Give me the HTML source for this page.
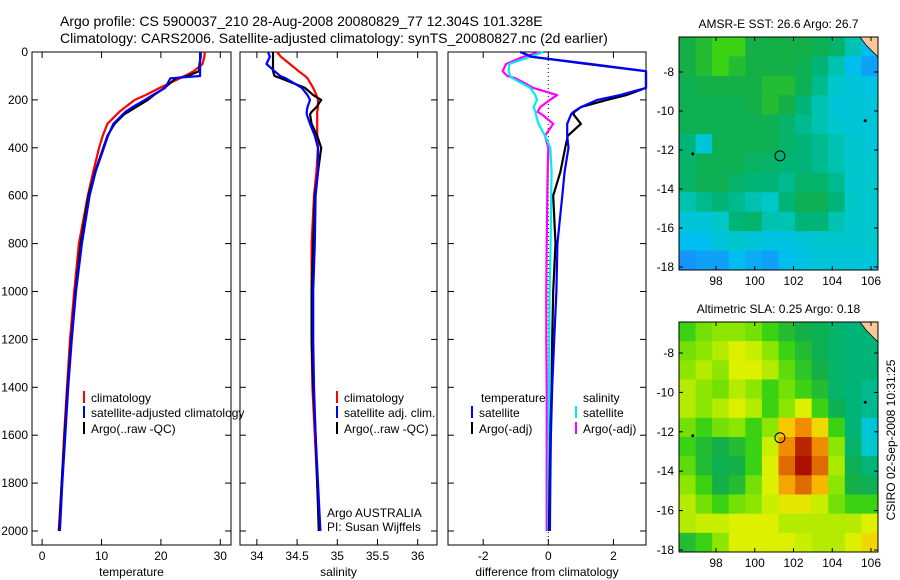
<!DOCTYPE html>
<html><head><meta charset="utf-8"><style>
body{margin:0;background:#fff;}
svg{display:block;font-family:"Liberation Sans",sans-serif;}
</style></head><body>
<svg id="chart" width="900" height="580" viewBox="0 0 900 580" xmlns="http://www.w3.org/2000/svg">
<text x="60" y="26" font-size="14">Argo profile: CS 5900037_210 28-Aug-2008 20080829_77 12.304S 101.328E</text>
<text x="60" y="43" font-size="14">Climatology: CARS2006. Satellite-adjusted climatology: synTS_20080827.nc (2d earlier)</text>
<g id="g"></g>
</svg>
<script>
// ---------- data ----------
const depths = [0,20,50,80,100,110,150,180,200,230,250,260,300,350,400,500,600,800,1000,1200,1400,1600,1800,2000];
const tempClim = [27.4,27.3,27.0,25.5,24.0,23.2,19.8,17.4,15.6,14.0,13.0,12.6,11.0,10.2,9.6,8.6,7.7,6.2,5.4,4.7,4.2,3.7,3.3,2.8];
const tempSat  = [26.6,26.6,26.6,26.6,26.6,21.6,20.7,18.6,17.3,15.2,14.0,13.6,12.0,11.1,10.4,9.0,8.0,6.7,5.7,5.0,4.4,3.9,3.4,3.0];
const tempArgo = [26.7,26.7,26.5,26.4,24.5,22.5,20.6,18.8,17.8,15.8,14.5,13.8,12.2,11.0,10.3,8.9,7.8,6.5,5.6,4.9,4.3,3.8,3.3,2.9];
const salClim = [34.25,34.3,34.41,34.52,34.6,34.63,34.7,34.74,34.76,34.76,34.75,34.75,34.75,34.75,34.76,34.74,34.71,34.68,34.68,34.68,34.69,34.72,34.75,34.78];
const salSat  = [34.14,34.16,34.12,34.22,34.29,34.36,34.56,34.63,34.66,34.63,34.62,34.62,34.66,34.72,34.76,34.76,34.73,34.72,34.70,34.70,34.71,34.73,34.76,34.79];
const salArgo = [34.2,34.2,34.2,34.2,34.22,34.3,34.6,34.7,34.8,34.74,34.68,34.66,34.68,34.75,34.8,34.76,34.72,34.70,34.68,34.68,34.70,34.73,34.75,34.77];
const dTempSat  = [-0.86,-0.5,1.3,3.0,3.0,3.0,3.0,2.2,1.5,1.0,0.77,0.7,0.58,0.58,0.62,0.5,0.43,0.28,0.25,0.18,0.12,0.08,0.06,0.05];
const dTempArgo = [-0.86,-0.5,1.2,3.0,3.0,3.0,3.0,2.4,1.8,1.0,0.8,0.77,1.0,0.6,0.52,0.37,0.15,0.22,0.15,0.12,0.1,0.06,0.04,0.02];
const dSalSat  = [-0.15,-0.55,-1.2,-1.22,-1.17,-1.1,-0.55,-0.4,-0.35,-0.45,-0.4,-0.38,-0.3,-0.1,0.06,0.1,0.09,0.07,0.04,0.03,0.02,0.01,0.0,0.0];
const dSalArgo = [-0.25,-0.77,-1.3,-1.4,-1.26,-1.0,-0.46,0.27,0.05,-0.25,-0.33,-0.2,0.15,-0.1,0.0,-0.02,-0.03,-0.05,-0.06,-0.06,-0.05,-0.05,-0.05,-0.05];
const depthTicks = [0,200,400,600,800,1000,1200,1400,1600,1800,2000];
const tempTicks = [0,10,20,30];
const salTicks = [34,34.5,35,35.5,36];
const salTickLabels = ["34","34.5","35","35.5","36"];
const diffTicks = [-2,0,2];
const lonTicks = [98,100,102,104,106];
const latTicks = [-8,-10,-12,-14,-16,-18];
const sstGrid = [
[0.47,0.5,0.55,0.55,0.47,0.47,0.47,0.47,0.45,0.42,0.35,0.25],
[0.47,0.5,0.55,0.5,0.47,0.47,0.47,0.45,0.4,0.35,0.25,0.2],
[0.45,0.47,0.47,0.47,0.47,0.5,0.5,0.45,0.38,0.32,0.3,0.28],
[0.45,0.45,0.45,0.45,0.47,0.5,0.47,0.4,0.35,0.3,0.3,0.3],
[0.45,0.45,0.45,0.45,0.45,0.45,0.42,0.38,0.35,0.32,0.3,0.3],
[0.4,0.3,0.45,0.45,0.45,0.45,0.42,0.4,0.38,0.35,0.32,0.3],
[0.42,0.45,0.45,0.45,0.43,0.42,0.4,0.4,0.38,0.35,0.32,0.32],
[0.42,0.45,0.45,0.42,0.4,0.4,0.38,0.42,0.42,0.38,0.32,0.32],
[0.35,0.38,0.4,0.38,0.35,0.33,0.4,0.45,0.45,0.4,0.33,0.32],
[0.3,0.3,0.33,0.4,0.42,0.35,0.35,0.4,0.4,0.35,0.32,0.32],
[0.25,0.25,0.3,0.32,0.3,0.28,0.28,0.3,0.32,0.32,0.32,0.32],
[0.18,0.2,0.2,0.25,0.22,0.2,0.25,0.28,0.3,0.3,0.3,0.3]];
const slaGrid = [
[0.55,0.6,0.62,0.62,0.6,0.55,0.5,0.47,0.45,0.42,0.4,0.4],
[0.6,0.62,0.66,0.7,0.68,0.62,0.55,0.5,0.45,0.42,0.4,0.4],
[0.62,0.66,0.62,0.7,0.7,0.66,0.58,0.52,0.47,0.42,0.4,0.4],
[0.66,0.62,0.6,0.66,0.62,0.55,0.6,0.55,0.5,0.42,0.4,0.38],
[0.66,0.62,0.66,0.7,0.66,0.55,0.62,0.7,0.55,0.45,0.4,0.38],
[0.6,0.55,0.6,0.62,0.55,0.62,0.78,0.85,0.75,0.55,0.4,0.3],
[0.55,0.5,0.47,0.5,0.55,0.68,0.85,0.95,0.85,0.62,0.42,0.32],
[0.58,0.5,0.45,0.47,0.55,0.7,0.88,0.98,0.88,0.65,0.45,0.4],
[0.62,0.55,0.47,0.5,0.6,0.7,0.82,0.88,0.8,0.62,0.47,0.45],
[0.66,0.6,0.55,0.6,0.62,0.68,0.72,0.72,0.68,0.6,0.55,0.55],
[0.66,0.68,0.68,0.7,0.7,0.7,0.66,0.66,0.66,0.66,0.66,0.7],
[0.5,0.55,0.62,0.7,0.7,0.7,0.7,0.68,0.66,0.66,0.7,0.75]];
const argoLon = 101.3, argoLat = -12.3;

// ---------- drawing ----------
const NS="http://www.w3.org/2000/svg";
const G=document.getElementById('g');
function el(tag,attrs,parent){const e=document.createElementNS(NS,tag);for(const k in attrs)e.setAttribute(k,attrs[k]);(parent||G).appendChild(e);return e;}
const pTop=52, pBot=545;
const yD = d => 52 + d*0.2395;
function panel(name,x0,x1,xmin,xmax,ticks,labels,xlabel,showY){
  const sx = v => x0 + (v-xmin)/(xmax-xmin)*(x1-x0);
  const b=el('rect',{x:x0,y:pTop,width:x1-x0,height:pBot-pTop,fill:'none',stroke:'#000','stroke-width':1});
  
  
  ticks.forEach((t,i)=>{const x=sx(t);
    el('line',{x1:x,x2:x,y1:pBot,y2:pBot-6,stroke:'#000'});el('line',{x1:x,x2:x,y1:pTop,y2:pTop+6,stroke:'#000'});
    const tx=el('text',{x:x,y:pBot+15,'font-size':12,'text-anchor':'middle'});tx.textContent=labels[i];
    
    });
  depthTicks.forEach(d=>{const y=yD(d);
    el('line',{x1:x0,x2:x0+6,y1:y,y2:y,stroke:'#000'});el('line',{x1:x1,x2:x1-6,y1:y,y2:y,stroke:'#000'});
    if(showY){const tx=el('text',{x:x0-4,y:y+4,'font-size':12,'text-anchor':'end'});tx.textContent=d;
      
      }});
  const xl=el('text',{x:(x0+x1)/2,y:576,'font-size':12,'text-anchor':'middle'});xl.textContent=xlabel;
  
  
  return sx;
}
function curve(sx,vals,color,name,xmin,xmax){
  const pts=depths.map((d,i)=>{let v=Math.max(xmin,Math.min(xmax,vals[i]));return sx(v).toFixed(1)+','+yD(d).toFixed(1);}).join(' ');
  const p=el('polyline',{points:pts,fill:'none',stroke:color,'stroke-width':2.2,'stroke-linejoin':'round'});
  
  
}
function legend(x,y,color,text,name){
  if(color) el('line',{x1:x,x2:x,y1:y-11,y2:y+1,stroke:color,'stroke-width':2});
  const t=el('text',{x:x+7,y:y,'font-size':12});t.textContent=text;
  
  
}
// panel 1
const sT=panel('temperature-panel',32,231,-1.7,31.8,tempTicks,tempTicks.map(String),'temperature',true);
curve(sT,tempClim,'#f00','temp-climatology-line',-1.7,31.8);
curve(sT,tempArgo,'#000','temp-argo-line',-1.7,31.8);
curve(sT,tempSat,'#00f','temp-satellite-line',-1.7,31.8);
legend(84,402,'#f00','climatology','legend-climatology');
legend(84,417,'#00f','satellite-adjusted climatology','legend-satellite');
legend(84,433,'#000','Argo(..raw -QC)','legend-argo');
// panel 2
const sS=panel('salinity-panel',240,437,33.79,36.24,salTicks,salTickLabels,'salinity',false);
curve(sS,salClim,'#f00','sal-climatology-line',33.79,36.24);
curve(sS,salArgo,'#000','sal-argo-line',33.79,36.24);
curve(sS,salSat,'#00f','sal-satellite-line',33.79,36.24);
legend(337,402,'#f00','climatology','legend-sal-climatology');
legend(337,417,'#00f','satellite adj. clim.','legend-sal-satellite');
legend(337,433,'#000','Argo(..raw -QC)','legend-sal-argo');
legend(320,517,null,'Argo AUSTRALIA','argo-australia-note');
legend(320,531,null,'PI: Susan Wijffels','pi-note');
// panel 3
const sD=panel('difference-panel',448,646,-3.08,3.0,diffTicks,diffTicks.map(String),'difference from climatology',false);
el('line',{x1:sD(0),x2:sD(0),y1:pTop,y2:pBot,stroke:'#000','stroke-dasharray':'1,3'});
curve(sD,dSalArgo,'#f0f','diff-sal-argo-line',-3.08,3.0);
curve(sD,dSalSat,'#0ee','diff-sal-satellite-line',-3.08,3.0);
curve(sD,dTempArgo,'#000','diff-temp-argo-line',-3.08,3.0);
curve(sD,dTempSat,'#00f','diff-temp-satellite-line',-3.08,3.0);
legend(474,402,null,'temperature','legend-temperature-header');
legend(472,417,'#00f','satellite','legend-diff-temp-sat');
legend(472,433,'#000','Argo(-adj)','legend-diff-temp-argo');
legend(576,402,null,'salinity','legend-salinity-header');
legend(576,417,'#0ee','satellite','legend-diff-sal-sat');
legend(576,433,'#f0f','Argo(-adj)','legend-diff-sal-argo');

// maps
const stops=[[0.15,[30,130,255]],[0.25,[0,190,240]],[0.33,[0,200,200]],[0.4,[0,180,120]],[0.47,[20,175,70]],[0.55,[60,210,20]],[0.62,[140,230,0]],[0.7,[220,240,0]],[0.78,[250,200,0]],[0.85,[240,140,0]],[0.92,[200,60,0]],[1.0,[160,0,0]]];
function cmap(v){if(v<=stops[0][0])return 'rgb('+stops[0][1]+')';
  for(let i=1;i<stops.length;i++){if(v<=stops[i][0]){const a=stops[i-1],b=stops[i],f=(v-a[0])/(b[0]-a[0]);
    return 'rgb('+a[1].map((c,k)=>Math.round(c+(b[1][k]-c)*f)).join(',')+')';}}
  return 'rgb('+stops[stops.length-1][1]+')';}
function map(name,title,grid,y0,y1,latA){
  const x0=679,x1=878;
  const sx=l=>716+(l-98)*19.375;
  const sy=la=>latA[0]+(-8-la)*latA[1];
  const rows=grid.length,cols=grid[0].length;
  const cw=(x1-x0)/cols,ch=(y1-y0)/rows;
  grid.forEach((r,i)=>r.forEach((v,j)=>{const c=el('rect',{x:x0+j*cw,y:y0+i*ch,width:cw+0.5,height:ch+0.5,fill:cmap(v)});
    
    }));
  el('path',{d:`M${x1-18},${y0} L${x1},${y0} L${x1},${y0+20} L${x1-6},${y0+14} L${x1-12},${y0+8} Z`,fill:'#f8c898',stroke:'#000','stroke-width':0.8});
  el('circle',{cx:sx(96.8),cy:sy(-12.2),r:1.5,fill:'#000'});
  el('circle',{cx:sx(105.7),cy:sy(-10.5),r:1.5,fill:'#000'});
  const c=el('circle',{cx:sx(argoLon),cy:sy(argoLat),r:5,fill:'none',stroke:'#000','stroke-width':1});
  
  
  el('rect',{x:x0,y:y0,width:x1-x0,height:y1-y0,fill:'none',stroke:'#000'});
  lonTicks.forEach(l=>{const x=sx(l);el('line',{x1:x,x2:x,y1:y1,y2:y1-4,stroke:'#000'});el('line',{x1:x,x2:x,y1:y0,y2:y0+4,stroke:'#000'});
    const t=el('text',{x:x,y:y1+15,'font-size':12,'text-anchor':'middle'});t.textContent=l;
    
    });
  latTicks.forEach(la=>{const y=sy(la);el('line',{x1:x0,x2:x0+4,y1:y,y2:y,stroke:'#000'});el('line',{x1:x1,x2:x1-4,y1:y,y2:y,stroke:'#000'});
    const t=el('text',{x:x0-5,y:y+4,'font-size':12,'text-anchor':'end'});t.textContent=la;
    
    });
  const t=el('text',{x:(x0+x1)/2,y:y0-9,'font-size':12,'text-anchor':'middle'});t.textContent=title;
  
  
}
map('sst-map','AMSR-E SST: 26.6 Argo: 26.7',sstGrid,37,270,[72,19.5]);
map('sla-map','Altimetric SLA: 0.25 Argo: 0.18',slaGrid,322,552,[353,19.7]);
const st=el('text',{x:0,y:0,'font-size':12,'text-anchor':'middle',transform:'translate(895,440) rotate(-90)'});
st.textContent='CSIRO 02-Sep-2008 10:31:25';


</script>
</body></html>
